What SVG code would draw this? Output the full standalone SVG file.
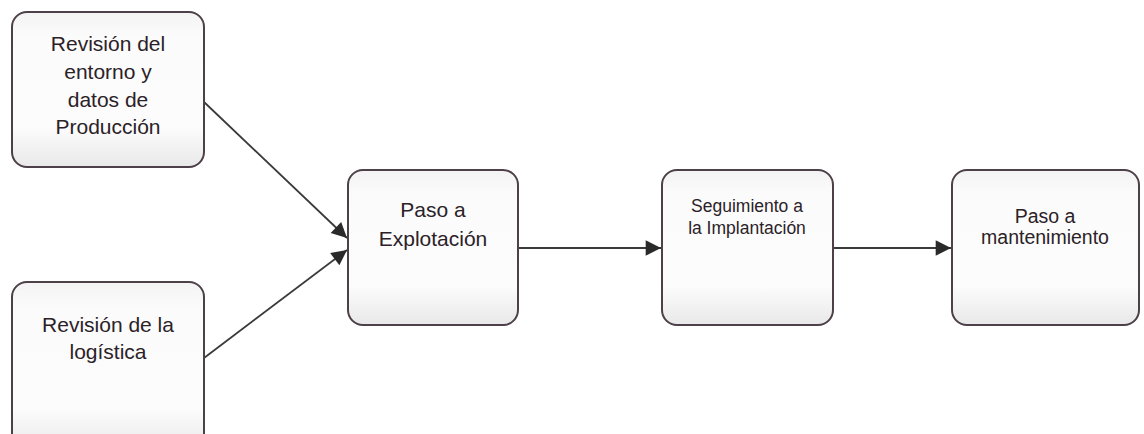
<svg xmlns="http://www.w3.org/2000/svg" width="1144" height="434" viewBox="0 0 1144 434">
  <style>
    .box { fill: url(#boxFill); stroke: #4e4049; stroke-width: 2; }
    .lbl { font-family: "Liberation Sans", Arial, sans-serif; fill: #2b2228; text-anchor: middle; }
    .big { font-size: 21px; }
    .mid { font-size: 19.5px; }
    .sm { font-size: 17.5px; }
    .edge { stroke: #3a3a3a; stroke-width: 1.8; fill: none; marker-end: url(#arrow); }
  </style>
  <defs>
    <linearGradient id="boxFill" x1="0" y1="0" x2="0" y2="1">
      <stop offset="0" stop-color="#f3f3f3"/>
      <stop offset="0.15" stop-color="#fbfbfb"/>
      <stop offset="0.75" stop-color="#fcfcfc"/>
      <stop offset="1" stop-color="#e8e8e8"/>
    </linearGradient>
    <marker id="arrow" viewBox="0 0 10 10" refX="10" refY="5" markerWidth="11" markerHeight="8.5" markerUnits="strokeWidth" orient="auto">
      <path d="M0,0 L10,5 L0,10 z" fill="#2a2a2a"/>
    </marker>
  </defs>

  <rect width="1144" height="434" fill="#ffffff"/>

  <g id="connectors">
    <line class="edge" x1="204" y1="102" x2="347" y2="238"/>
    <line class="edge" x1="204" y1="358" x2="347" y2="250"/>
    <line class="edge" x1="518" y1="248" x2="661" y2="248"/>
    <line class="edge" x1="833" y1="248" x2="951" y2="248"/>
  </g>

  <g id="revision-entorno">
    <rect class="box" x="12" y="12" width="192" height="155" rx="15"/>
    <text class="lbl big" x="108" y="51">Revisión del</text>
    <text class="lbl big" x="108" y="79">entorno y</text>
    <text class="lbl big" x="108" y="107">datos de</text>
    <text class="lbl big" x="108" y="134">Producción</text>
  </g>

  <g id="revision-logistica">
    <rect class="box" x="12" y="282" width="192" height="170" rx="15"/>
    <text class="lbl big" x="108" y="332">Revisión de la</text>
    <text class="lbl big" x="108" y="359">logística</text>
  </g>

  <g id="paso-explotacion">
    <rect class="box" x="348" y="170" width="170" height="155" rx="15"/>
    <text class="lbl big" x="433" y="217">Paso a</text>
    <text class="lbl big" x="433" y="246">Explotación</text>
  </g>

  <g id="seguimiento">
    <rect class="box" x="662" y="170" width="171" height="155" rx="15"/>
    <text class="lbl sm" x="747" y="212">Seguimiento a</text>
    <text class="lbl sm" x="747" y="234">la Implantación</text>
  </g>

  <g id="paso-mantenimiento">
    <rect class="box" x="952" y="170" width="187" height="155" rx="15"/>
    <text class="lbl mid" x="1045" y="223">Paso a</text>
    <text class="lbl mid" x="1045" y="244">mantenimiento</text>
  </g>
</svg>
